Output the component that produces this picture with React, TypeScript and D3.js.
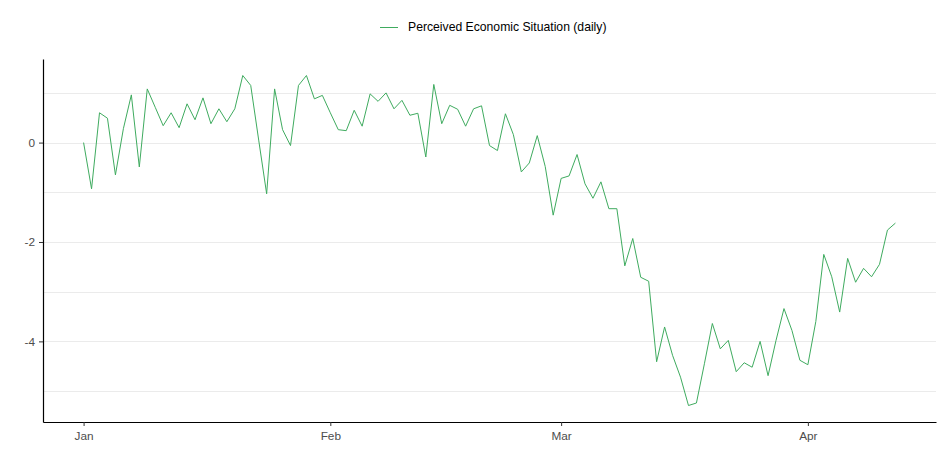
import { useEffect, useRef } from 'react';
import * as d3 from 'd3';

// daily index, starting 2020-01-01
const startDate = new Date(2020, 0, 1);
const values = [
  0.0, -0.93, 0.6, 0.49, -0.65, 0.28, 0.96, -0.49, 1.08, 0.71,
  0.34, 0.6, 0.3, 0.78, 0.46, 0.9, 0.38, 0.68, 0.42, 0.68,
  1.35, 1.15, 0.05, -1.03, 1.08, 0.26, -0.06, 1.15, 1.35, 0.88,
  0.95, 0.6, 0.26, 0.24, 0.65, 0.33, 0.98, 0.83, 1.0, 0.68,
  0.85, 0.55, 0.59, -0.29, 1.17, 0.38, 0.75, 0.67, 0.33, 0.68,
  0.74, -0.06, -0.16, 0.58, 0.16, -0.59, -0.41, 0.14, -0.48, -1.46,
  -0.72, -0.67, -0.24, -0.83, -1.12, -0.79, -1.33, -1.33, -2.48, -1.93,
  -2.71, -2.79, -4.41, -3.71, -4.28, -4.72, -5.29, -5.24, -4.45, -3.64,
  -4.15, -3.98, -4.61, -4.43, -4.52, -4.0, -4.69, -3.98, -3.34, -3.78,
  -4.38, -4.47, -3.6, -2.25, -2.7, -3.41, -2.33, -2.81, -2.53, -2.7,
  -2.45, -1.76, -1.62,
];
const yTicks = [0, -2, -4];
const yMinor = [1, -1, -3, -5];
const seriesName = 'Perceived Economic Situation (daily)';
const lineColor = '#3fab5f';
const font = 'Liberation Sans, Arial, sans-serif';

export default function App() {
  const ref = useRef<SVGSVGElement | null>(null);

  useEffect(() => {
    if (!ref.current) return;
    const width = 943;
    const height = 467;
    const panel = { left: 43, right: 936, top: 59, bottom: 422 };

    const data = values.map((v, i) => ({ date: d3.timeDay.offset(startDate, i), v }));

    const svg = d3.select(ref.current);
    svg.selectAll('*').remove();
    svg.attr('width', width).attr('height', height);

    // ggplot-like 5% expansion
    const xExt = d3.extent(data, d => d.date) as [Date, Date];
    const xPad = (+xExt[1] - +xExt[0]) * 0.05;
    const x = d3
      .scaleTime()
      .domain([new Date(+xExt[0] - xPad), new Date(+xExt[1] + xPad)])
      .range([panel.left, panel.right]);

    const yExt = d3.extent(data, d => d.v) as [number, number];
    const yPad = (yExt[1] - yExt[0]) * 0.05;
    const y = d3
      .scaleLinear()
      .domain([yExt[0] - yPad, yExt[1] + yPad])
      .range([panel.bottom, panel.top]);

    // grid
    const grid = svg.append('g');
    [...yMinor, ...yTicks].forEach(t => {
      grid
        .append('line')
        .attr('x1', panel.left)
        .attr('x2', panel.right)
        .attr('y1', Math.round(y(t)) + 0.5)
        .attr('y2', Math.round(y(t)) + 0.5)
        .attr('stroke', '#ebebeb')
        .attr('stroke-width', 1);
    });

    const line = d3
      .line<{ date: Date; v: number }>()
      .x(d => x(d.date))
      .y(d => y(d.v));

    svg
      .append('path')
      .datum(data)
      .attr('fill', 'none')
      .attr('stroke', lineColor)
      .attr('stroke-width', 1)
      .attr('d', line);

    // axes
    const xAxis = svg
      .append('g')
      .attr('transform', `translate(0,${panel.bottom})`)
      .call(
        d3
          .axisBottom(x)
          .ticks(d3.timeMonth.every(1))
          .tickFormat(d => d3.timeFormat('%b')(d as Date))
          .tickSize(4)
          .tickPadding(6)
          .tickSizeOuter(0)
      );
    xAxis.select('.domain').attr('stroke', '#000').attr('stroke-width', 1.2);
    xAxis.selectAll('.tick line').attr('stroke', '#333');
    xAxis
      .selectAll('.tick text')
      .attr('fill', '#4d4d4d')
      .attr('font-size', 11.8)
      .attr('font-family', font);

    const yAxis = svg
      .append('g')
      .attr('transform', `translate(${panel.left},0)`)
      .call(d3.axisLeft(y).tickValues(yTicks).tickFormat(d3.format('d')).tickSize(4).tickPadding(4).tickSizeOuter(0));
    yAxis.select('.domain').attr('stroke', '#000').attr('stroke-width', 1.2);
    yAxis.selectAll('.tick line').attr('stroke', '#333');
    yAxis
      .selectAll('.tick text')
      .attr('fill', '#4d4d4d')
      .attr('font-size', 11.8)
      .attr('font-family', font)
      .text(d => ((d as number) < 0 ? '-' + Math.abs(d as number) : String(d)));

    // legend
    const legend = svg.append('g');
    legend
      .append('line')
      .attr('x1', 380)
      .attr('x2', 398)
      .attr('y1', 27.5)
      .attr('y2', 27.5)
      .attr('stroke', lineColor)
      .attr('stroke-width', 1);
    legend
      .append('text')
      .attr('x', 408)
      .attr('y', 27)
      .attr('dy', '0.35em')
      .attr('font-size', 12.2)
      .attr('font-family', font)
      .attr('fill', '#000')
      .text(seriesName);
  }, []);

  return <svg ref={ref} style={{ position: 'absolute', left: 0, top: 0 }} />;
}
